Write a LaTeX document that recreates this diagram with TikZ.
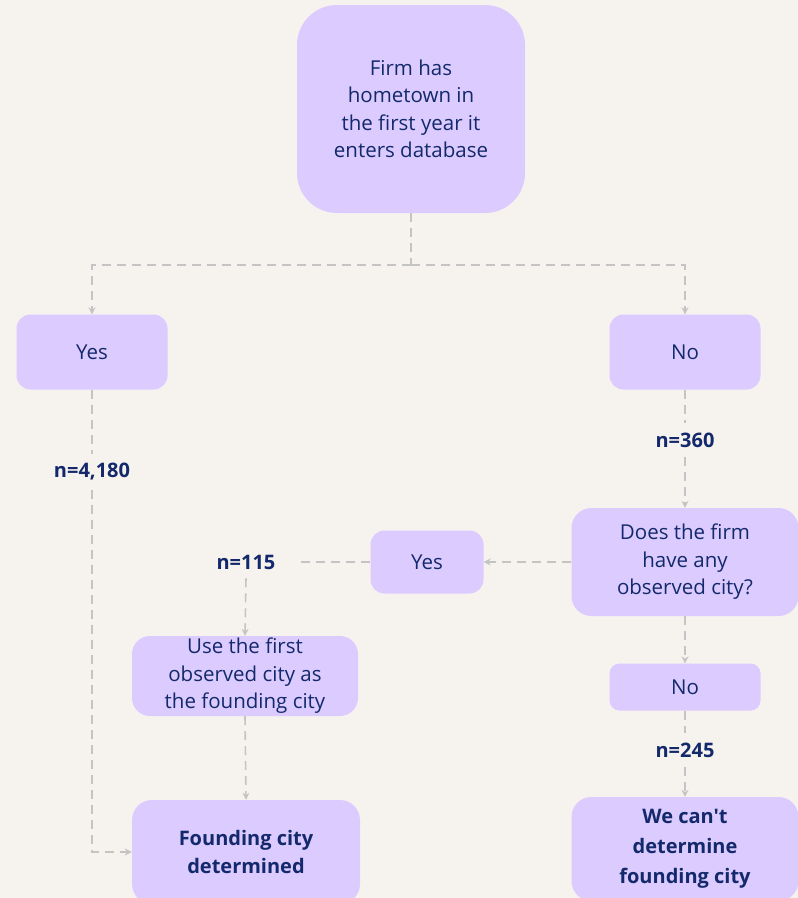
\documentclass[tikz,border=0pt]{standalone}
\usepackage{fontspec}
\setmainfont{Open Sans}[Ligatures=TeXOff]
\usetikzlibrary{arrows.meta}

\definecolor{paper}{HTML}{F6F2EE}
\definecolor{lilac}{HTML}{DCCBFF}
\definecolor{ink}{HTML}{13296B}
\definecolor{wire}{HTML}{C4C4C4}

\tikzset{
	box/.style={fill=lilac, rounded corners=14pt, text=ink, align=center,
		font=\fontsize{20.5}{27.5}\selectfont, inner sep=0pt},
	count/.style={text=ink, font=\fontsize{20}{20}\selectfont\bfseries, inner sep=9pt},
	link/.style={draw=wire, line width=1.6pt, dash pattern=on 9pt off 6pt},
	tip/.style={-{Stealth[length=7pt,width=7pt,fill=wire]}}
}

\begin{document}
\begin{tikzpicture}[x=1pt,y=-1pt]
		\fill[paper] (0,0) rectangle (798,898);
		\useasboundingbox (0,0) rectangle (798,898);
		\clip (0,0) rectangle (798,898);
		
		% boxes
		\node[box, minimum width=228pt, minimum height=208pt, rounded corners=40pt] (firm) at (411,109)
			{Firm has\\hometown in\\the first year it\\enters database};
		\node[box, minimum width=151pt, minimum height=75pt] (yesA) at (92,352) {Yes};
		\node[box, minimum width=151pt, minimum height=75pt] (noA) at (685,352) {No};
		\node[box, minimum width=227pt, minimum height=108pt, rounded corners=20pt] (quest) at (685,562)
			{Does the firm\\have any\\observed city?};
		\node[box, minimum width=113pt, minimum height=63pt] (yesB) at (427,562) {Yes};
		\node[box, minimum width=226pt, minimum height=80pt, rounded corners=18pt] (first) at (245,676)
			{Use the first\\observed city as\\the founding city};
		\node[box, minimum width=151pt, minimum height=47pt, rounded corners=10pt] (noB) at (685,687) {No};
		\node[box, minimum width=228pt, minimum height=104pt, rounded corners=20pt, font=\fontsize{20}{28}\selectfont\bfseries] (found) at (246,852)
			{Founding city\\determined};
		\node[box, minimum width=227pt, minimum height=104pt, rounded corners=20pt, font=\fontsize{20}{30}\selectfont\bfseries] (cant) at (685,849)
			{We can't\\determine\\founding city};
		
		% counts
		\node[count] (nYes) at (92,472) {n=4,180};
		\node[count] (nNo) at (685,440) {n=360};
		\node[count, inner xsep=24pt] (nObs) at (246,562) {n=115};
		\node[count] (nNone) at (685,750) {n=245};
		
		% connectors
		\coordinate (split) at (411,265);
		\draw[link] (firm.south) -- (split);
		\draw[link,tip] (split) -| (yesA.north);
		\draw[link,tip] (split) -| (noA.north);
		\draw[link] (yesA.south) -- (nYes.north);
		\draw[link,tip] (nYes.south) |- (found.west);
		\draw[link] (noA.south) -- (nNo.north);
		\draw[link,tip] (nNo.south) -- (quest.north);
		\draw[link,tip] (quest.west) -- (yesB.east);
		\draw[link] (yesB.west) -- (nObs.east);
		\draw[link,tip] (nObs.south) -- (first.north);
		\draw[link,tip] (first.south) -- (found.north);
		\draw[link,tip] (quest.south) -- (noB.north);
		\draw[link] (noB.south) -- (nNone.north);
		\draw[link,tip] (nNone.south) -- (cant.north);
\end{tikzpicture}
\end{document}
